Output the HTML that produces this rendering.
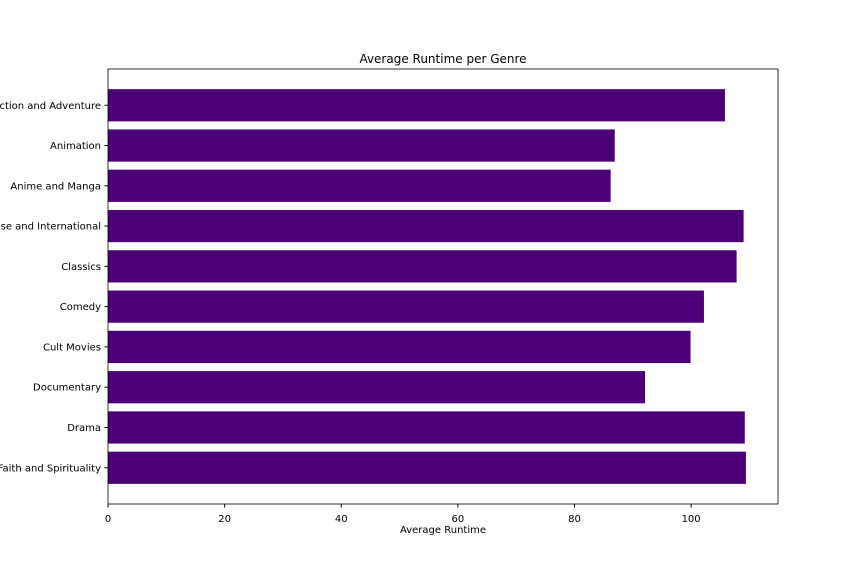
<!DOCTYPE html>
<html><head><meta charset="utf-8"><style>
body{margin:0;background:#fff;}
svg{display:block;font-family:"DejaVu Sans","Liberation Sans",sans-serif;}
</style></head><body>
<svg id="chart" width="864" height="576">
<rect x="0" y="0" width="864" height="576" fill="#fff"/>
<text x="443" y="63" font-size="12" text-anchor="middle">Average Runtime per Genre</text>
<g id="bars"></g>
<g id="yticks"></g>
<g id="xticks"></g>
<rect x="108" y="69" width="670" height="435" fill="none" stroke="#000" stroke-width="0.8"/>
<text x="443" y="533" font-size="10" text-anchor="middle">Average Runtime</text>
</svg>
<script>
const categories=["Action and Adventure","Animation","Anime and Manga","Chinese and International","Classics","Comedy","Cult Movies","Documentary","Drama","Faith and Spirituality"];
const runtimes=[105.8,86.9,86.2,109.0,107.8,102.2,99.9,92.1,109.2,109.4];
const xTicks=[0,20,40,60,80,100];
const NS="http://www.w3.org/2000/svg";
const L=108,R=778,T=69,B=504,xmax=114.9;
const ymin=-0.9,ymax=9.9;
function xs(v){return L+v/xmax*(R-L);}
function ys(i){return T+(i-ymin)/(ymax-ymin)*(B-T);}
const bh=0.8*(B-T)/(ymax-ymin);
const gb=document.getElementById('bars'),gy=document.getElementById('yticks'),gx=document.getElementById('xticks');
categories.forEach((c,i)=>{
  const r=document.createElementNS(NS,'rect');
  r.setAttribute('x',xs(0));r.setAttribute('y',ys(i)-bh/2);
  r.setAttribute('width',xs(runtimes[i])-xs(0));r.setAttribute('height',bh);
  r.setAttribute('fill','#4b0077');
  
  
  gb.appendChild(r);
  const tk=document.createElementNS(NS,'line');
  tk.setAttribute('x1',L-3.5);tk.setAttribute('x2',L);tk.setAttribute('y1',ys(i));tk.setAttribute('y2',ys(i));tk.setAttribute('stroke','#000');
  
  
  gy.appendChild(tk);
  const t=document.createElementNS(NS,'text');
  t.setAttribute('x',L-7);t.setAttribute('y',ys(i)+3.5);t.setAttribute('font-size','10');t.setAttribute('text-anchor','end');
  t.textContent=c;
  
  
  gy.appendChild(t);
});
xTicks.forEach(v=>{
  const tk=document.createElementNS(NS,'line');
  tk.setAttribute('x1',xs(v));tk.setAttribute('x2',xs(v));tk.setAttribute('y1',B);tk.setAttribute('y2',B+3.5);tk.setAttribute('stroke','#000');
  
  
  gx.appendChild(tk);
  const t=document.createElementNS(NS,'text');
  t.setAttribute('x',xs(v));t.setAttribute('y',B+18);t.setAttribute('font-size','10');t.setAttribute('text-anchor','middle');
  t.textContent=v;
  
  
  gx.appendChild(t);
});
</script>
</body></html>
